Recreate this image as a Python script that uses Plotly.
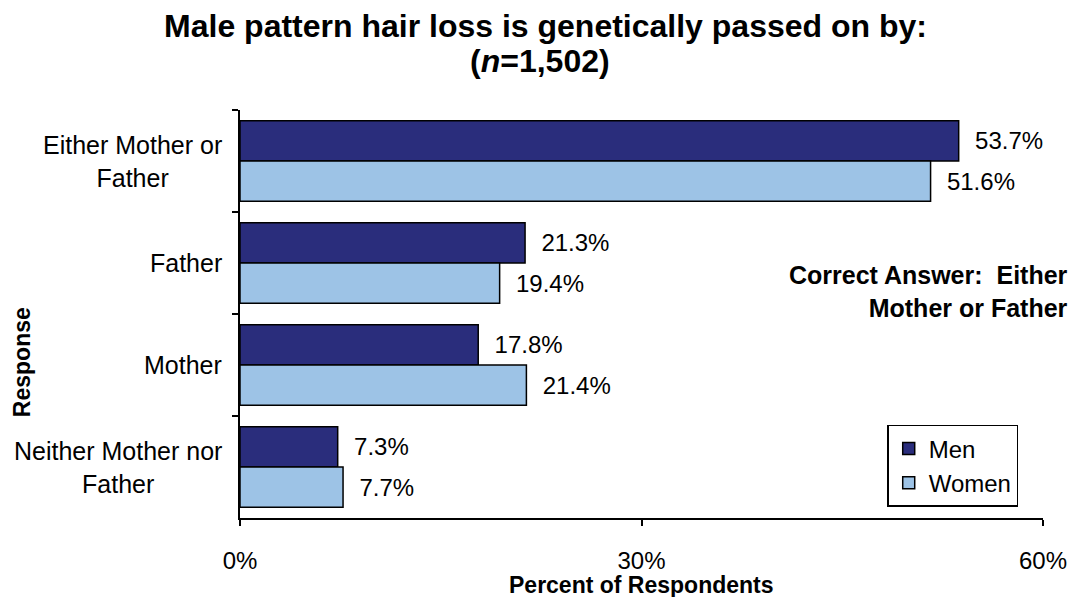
import plotly.graph_objects as go

categories = ["Either Mother or Father", "Father", "Mother", "Neither Mother nor Father"]
cat_labels = ["Either Mother or<br>Father", "Father", "Mother", "Neither Mother nor<br>Father"]
men = [53.7, 21.3, 17.8, 7.3]
women = [51.6, 19.4, 21.4, 7.7]
x_ticks = [0, 30, 60]
x_tick_text = ["0%", "30%", "60%"]

FONT = "Liberation Sans, Arial, sans-serif"
NB = "\u00a0"

fig = go.Figure()
fig.add_trace(go.Bar(
    y=categories, x=men, orientation="h", name="Men",
    marker=dict(color="#2A2D7C", line=dict(color="black", width=1.5)),
    text=[f"{NB*2}{v:.1f}%" for v in men], textposition="outside",
    textfont=dict(size=24, color="black", family=FONT), cliponaxis=False,
))
fig.add_trace(go.Bar(
    y=categories, x=women, orientation="h", name="Women",
    marker=dict(color="#9DC3E6", line=dict(color="black", width=1.5)),
    text=[f"{NB*2}{v:.1f}%" for v in women], textposition="outside",
    textfont=dict(size=24, color="black", family=FONT), cliponaxis=False,
))

for c, lab in zip(categories, cat_labels):
    fig.add_annotation(x=0, xref="paper", y=c, yref="y", text=lab, showarrow=False,
                       xanchor="right", align="center", xshift=-16,
                       font=dict(size=25, color="black", family=FONT))

fig.add_annotation(x=0.3736, xref="paper", y=1.120, yref="paper",
                   text="<b>(<i>n</i>=1,502)</b>", showarrow=False,
                   xanchor="center", yanchor="middle",
                   font=dict(size=32, color="black", family=FONT))
fig.add_annotation(x=1.034, xref="paper", y=0.554, yref="paper",
                   text=f"<b>Correct Answer:{NB} Either<br>Mother or Father</b>",
                   showarrow=False, xanchor="right", yanchor="middle", align="right",
                   font=dict(size=25, color="black", family=FONT))
fig.add_annotation(x=-0.2715, xref="paper", y=0.382, yref="paper", text="<b>Response</b>",
                   textangle=-90, showarrow=False, xanchor="center", yanchor="middle",
                   font=dict(size=23, color="black", family=FONT))
fig.add_annotation(x=0.5, xref="paper", y=-0.164, yref="paper",
                   text="<b>Percent of Respondents</b>", showarrow=False,
                   xanchor="center", yanchor="middle",
                   font=dict(size=23, color="black", family=FONT))

fig.update_layout(
    width=1075, height=589,
    margin=dict(l=232, r=40, t=102, b=79),
    paper_bgcolor="white", plot_bgcolor="white",
    barmode="group", bargap=0.21, bargroupgap=0,
    title=dict(text="<b>Male pattern hair loss is genetically passed on by:</b>",
               x=0.5, xanchor="center", y=0.969, yanchor="middle",
               font=dict(size=32, color="black", family=FONT)),
    font=dict(family=FONT, color="black"),
    showlegend=True,
    legend=dict(x=0.806, y=0.228, xanchor="left", yanchor="top",
                bordercolor="black", borderwidth=1.5, bgcolor="white",
                font=dict(size=24, color="black", family=FONT),
                traceorder="normal", itemwidth=30),
    xaxis=dict(range=[0, 60], tickvals=x_ticks, ticktext=x_tick_text,
               showgrid=False, zeroline=False, showline=True, linecolor="black", linewidth=2,
               ticks="outside", ticklen=6, tickwidth=2, tickcolor="black",
               ticklabelstandoff=14, tickfont=dict(size=24, color="black", family=FONT)),
    yaxis=dict(categoryorder="array", categoryarray=categories, autorange="reversed",
               showticklabels=False, showgrid=False, zeroline=False,
               showline=True, linecolor="black", linewidth=2,
               ticks="outside", tickson="boundaries", ticklen=6, tickwidth=2, tickcolor="black"),
)

fig.write_html("out.html")
